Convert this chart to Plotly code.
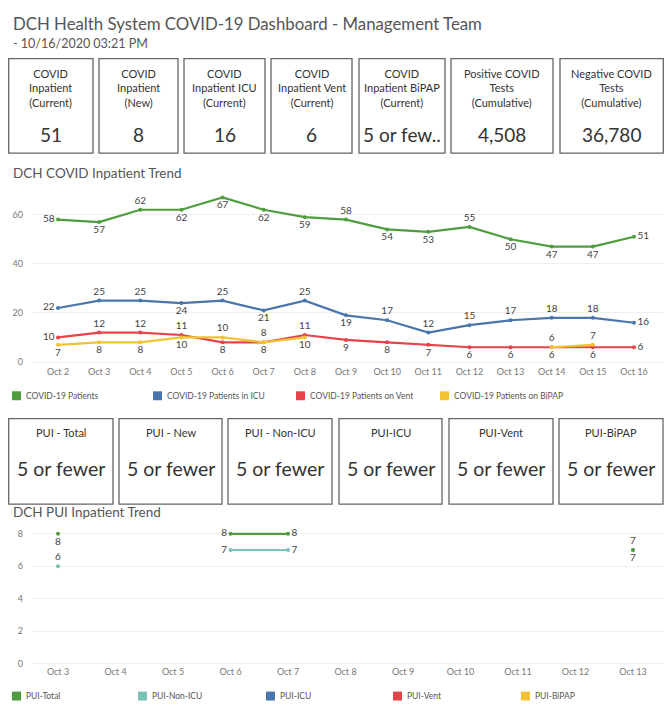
import plotly.graph_objects as go

PAGE_W, PAGE_H = 672, 717
OFF = 8  # default page body margin
W, H = PAGE_W - 2 * OFF, PAGE_H - 2 * OFF

# ---------------- data ----------------
title = "DCH Health System COVID-19 Dashboard - Management Team"
subtitle = "- 10/16/2020 03:21 PM"

kpi_labels = ["COVID<br>Inpatient<br>(Current)", "COVID<br>Inpatient<br>(New)",
              "COVID<br>Inpatient ICU<br>(Current)", "COVID<br>Inpatient Vent<br>(Current)",
              "COVID<br>Inpatient BiPAP<br>(Current)", "Positive COVID<br>Tests<br>(Cumulative)",
              "Negative COVID<br>Tests<br>(Cumulative)"]
kpi_values = ["51", "8", "16", "6", "5 or few..", "4,508", "36,780"]

pui_labels = ["PUI - Total", "PUI - New", "PUI - Non-ICU", "PUI-ICU", "PUI-Vent", "PUI-BiPAP"]
pui_values = ["5 or fewer", "5 or fewer", "5 or fewer", "5 or fewer", "5 or fewer", "5 or fewer"]

trend_title = "DCH COVID Inpatient Trend"
trend_dates = ["Oct 2", "Oct 3", "Oct 4", "Oct 5", "Oct 6", "Oct 7", "Oct 8", "Oct 9",
               "Oct 10", "Oct 11", "Oct 12", "Oct 13", "Oct 14", "Oct 15", "Oct 16"]
covid_patients = [58, 57, 62, 62, 67, 62, 59, 58, 54, 53, 55, 50, 47, 47, 51]
covid_icu = [22, 25, 25, 24, 25, 21, 25, 19, 17, 12, 15, 17, 18, 18, 16]
covid_vent = [10, 12, 12, 11, 8, 8, 11, 9, 8, 7, 6, 6, 6, 6, 6]
covid_bipap = [7, 8, 8, 10, 10, 8, 10, None, None, None, None, None, 6, 7, None]
trend_names = ["COVID-19 Patients", "COVID-19 Patients in ICU",
               "COVID-19 Patients on Vent", "COVID-19 Patients on BiPAP"]
trend_yticks = [0, 20, 40, 60]

pui_title = "DCH PUI Inpatient Trend"
pui_dates = ["Oct 3", "Oct 4", "Oct 5", "Oct 6", "Oct 7", "Oct 8", "Oct 9",
             "Oct 10", "Oct 11", "Oct 12", "Oct 13"]
pui_total = [8, None, None, 8, 8, None, None, None, None, None, 7]
pui_nonicu = [6, None, None, 7, 7, None, None, None, None, None, 7]
pui_icu = [None, None, None, None, None, None, None, None, None, None, None]
pui_vent = [None, None, None, None, None, None, None, None, None, None, None]
pui_bipap = [None, None, None, None, None, None, None, None, None, None, None]
pui_names = ["PUI-Total", "PUI-Non-ICU", "PUI-ICU", "PUI-Vent", "PUI-BiPAP"]
pui_yticks = [0, 2, 4, 6, 8]

# ---------------- styles ----------------
FONT = "Lato"
GREEN, BLUE, RED, YELLOW, TEAL = "#4f9d3e", "#4a76ad", "#e4434b", "#f2c233", "#79c2b6"
trend_colors = [GREEN, BLUE, RED, YELLOW]
pui_colors = [GREEN, TEAL, BLUE, RED, YELLOW]

trend_pos = [
    ["middle left", "bottom center", "top center", "bottom center", "bottom center", "bottom center",
     "bottom center", "top center", "bottom center", "bottom center", "top center", "bottom center",
     "bottom center", "bottom center", "middle right"],
    ["middle left", "top center", "top center", "bottom center", "top center", "bottom center",
     "top center", "bottom center", "top center", "top center", "top center", "top center",
     "top center", "top center", "middle right"],
    ["middle left", "top center", "top center", "top center", "bottom center", "bottom center",
     "top center", "bottom center", "bottom center", "bottom center", "bottom center", "bottom center",
     "bottom center", "bottom center", "middle right"],
    ["bottom center", "bottom center", "bottom center", "bottom center", "top center", "top center",
     "bottom center", "top center", "top center", "top center", "top center", "top center",
     "top center", "top center", "top center"],
]
pui_pos = [
    ["bottom center", "top center", "top center", "middle left", "middle right", "top center",
     "top center", "top center", "top center", "top center", "top center"],
    ["top center", "top center", "top center", "middle left", "middle right", "top center",
     "top center", "top center", "top center", "top center", "bottom center"],
    ["top center"] * 11, ["top center"] * 11, ["top center"] * 11,
]


def px(x):
    return min(1.0, max(0.0, (x - OFF) / W))


def py(y):
    return min(1.0, max(0.0, 1 - (y - OFF) / H))


fig = go.Figure()

trend_series = [covid_patients, covid_icu, covid_vent, covid_bipap]
for name, vals, col, pos in zip(trend_names, trend_series, trend_colors, trend_pos):
    fig.add_trace(go.Scatter(
        x=trend_dates, y=vals, name=name, mode="lines+markers+text",
        line=dict(color=col, width=2.2), marker=dict(color=col, size=4),
        texttemplate="%{y}", textposition=pos,
        textfont=dict(family=FONT, size=10, color="#444"),
        xaxis="x", yaxis="y", showlegend=False, cliponaxis=False,
        hovertemplate="%{x}: %{y}<extra>" + name + "</extra>"))

pui_series = [pui_total, pui_nonicu, pui_icu, pui_vent, pui_bipap]
order = [1, 0, 2, 3, 4]
for i in order:
    name, vals, col, pos = pui_names[i], pui_series[i], pui_colors[i], pui_pos[i]
    fig.add_trace(go.Scatter(
        x=pui_dates, y=vals, name=name, mode="lines+markers+text",
        line=dict(color=col, width=2.2), marker=dict(color=col, size=4),
        texttemplate="%{y}", textposition=pos,
        textfont=dict(family=FONT, size=10, color="#444"),
        xaxis="x2", yaxis="y2", showlegend=False, cliponaxis=False,
        hovertemplate="%{x}: %{y}<extra>" + name + "</extra>"))

shapes = []
ann = []


def text(x, y, s, size, color="#555", xanchor="left"):
    ann.append(dict(x=px(x), y=py(y), xref="paper", yref="paper", text=s, showarrow=False,
                    xanchor=xanchor, yanchor="middle",
                    font=dict(family=FONT, size=size, color=color)))


# titles
text(11, 24, title, 16.8)
text(11, 44, subtitle, 12.5)
text(11, 174, trend_title, 13.5)
text(11, 515, pui_title, 13.5)

# KPI cards
kpi_boxes = [(8.7, 93), (99, 178), (184, 265), (271, 352), (359, 445), (451, 553), (560, 663.3)]
for (x0, x1), lab, val in zip(kpi_boxes, kpi_labels, kpi_values):
    shapes.append(dict(type="rect", xref="paper", yref="paper", x0=px(x0), x1=px(x1),
                       y0=py(154), y1=py(59), line=dict(color="#666", width=1.3)))
    cx = (x0 + x1) / 2
    text(cx, 88, lab, 11, "#333", "center")
    text(cx, 135, val, 19, "#333", "center")

pui_boxes = [(8.7, 113), (119, 222), (228, 332), (339, 442), (449, 553), (559, 663)]
for (x0, x1), lab, val in zip(pui_boxes, pui_labels, pui_values):
    shapes.append(dict(type="rect", xref="paper", yref="paper", x0=px(x0), x1=px(x1),
                       y0=py(507), y1=py(421), line=dict(color="#666", width=1.3)))
    cx = (x0 + x1) / 2
    text(cx, 435, lab, 11, "#333", "center")
    text(cx, 471, val, 19.5, "#333", "center")

# legends
leg1_x = [12, 153, 296, 440]
for lx, name, col in zip(leg1_x, trend_names, trend_colors):
    shapes.append(dict(type="rect", xref="paper", yref="paper", x0=px(lx), x1=px(lx + 9),
                       y0=py(402.5), y1=py(393.5), fillcolor=col, line=dict(width=0)))
    text(lx + 12, 398, name, 8.5)
leg2_x = [12, 138, 266, 393, 521]
for lx, name, col in zip(leg2_x, pui_names, pui_colors):
    shapes.append(dict(type="rect", xref="paper", yref="paper", x0=px(lx), x1=px(lx + 9),
                       y0=py(704.5), y1=py(695.5), fillcolor=col, line=dict(width=0)))
    text(lx + 12, 700, name, 8.5)

axis_common = dict(showline=False, zeroline=False, ticks="", fixedrange=True,
                   tickfont=dict(family=FONT, size=9, color="#777"))

fig.update_layout(
    width=W, height=H, margin=dict(l=0, r=0, t=0, b=0),
    paper_bgcolor="white", plot_bgcolor="white", showlegend=False,
    font=dict(family=FONT, color="#444"),
    shapes=shapes, annotations=ann,
    xaxis=dict(domain=[px(32), px(664)], anchor="y", type="category",
               range=[-26 / 41.14, 14 + 30 / 41.14], showgrid=False, **axis_common),
    yaxis=dict(domain=[py(367), py(185)], anchor="x", range=[-1.2, 72.5],
               tickvals=trend_yticks, showgrid=True, gridcolor="#eeeeee", gridwidth=1,
               ticklabelstandoff=8, **axis_common),
    xaxis2=dict(domain=[px(32), px(664)], anchor="y2", type="category",
                range=[-26 / 57.5, 10 + 31 / 57.5], showgrid=False, **axis_common),
    yaxis2=dict(domain=[py(669), py(527)], anchor="x2", range=[-0.1, 8.6],
                tickvals=pui_yticks, showgrid=True, gridcolor="#eeeeee", gridwidth=1,
                ticklabelstandoff=8, **axis_common),
)

fig.write_html("out.html")
